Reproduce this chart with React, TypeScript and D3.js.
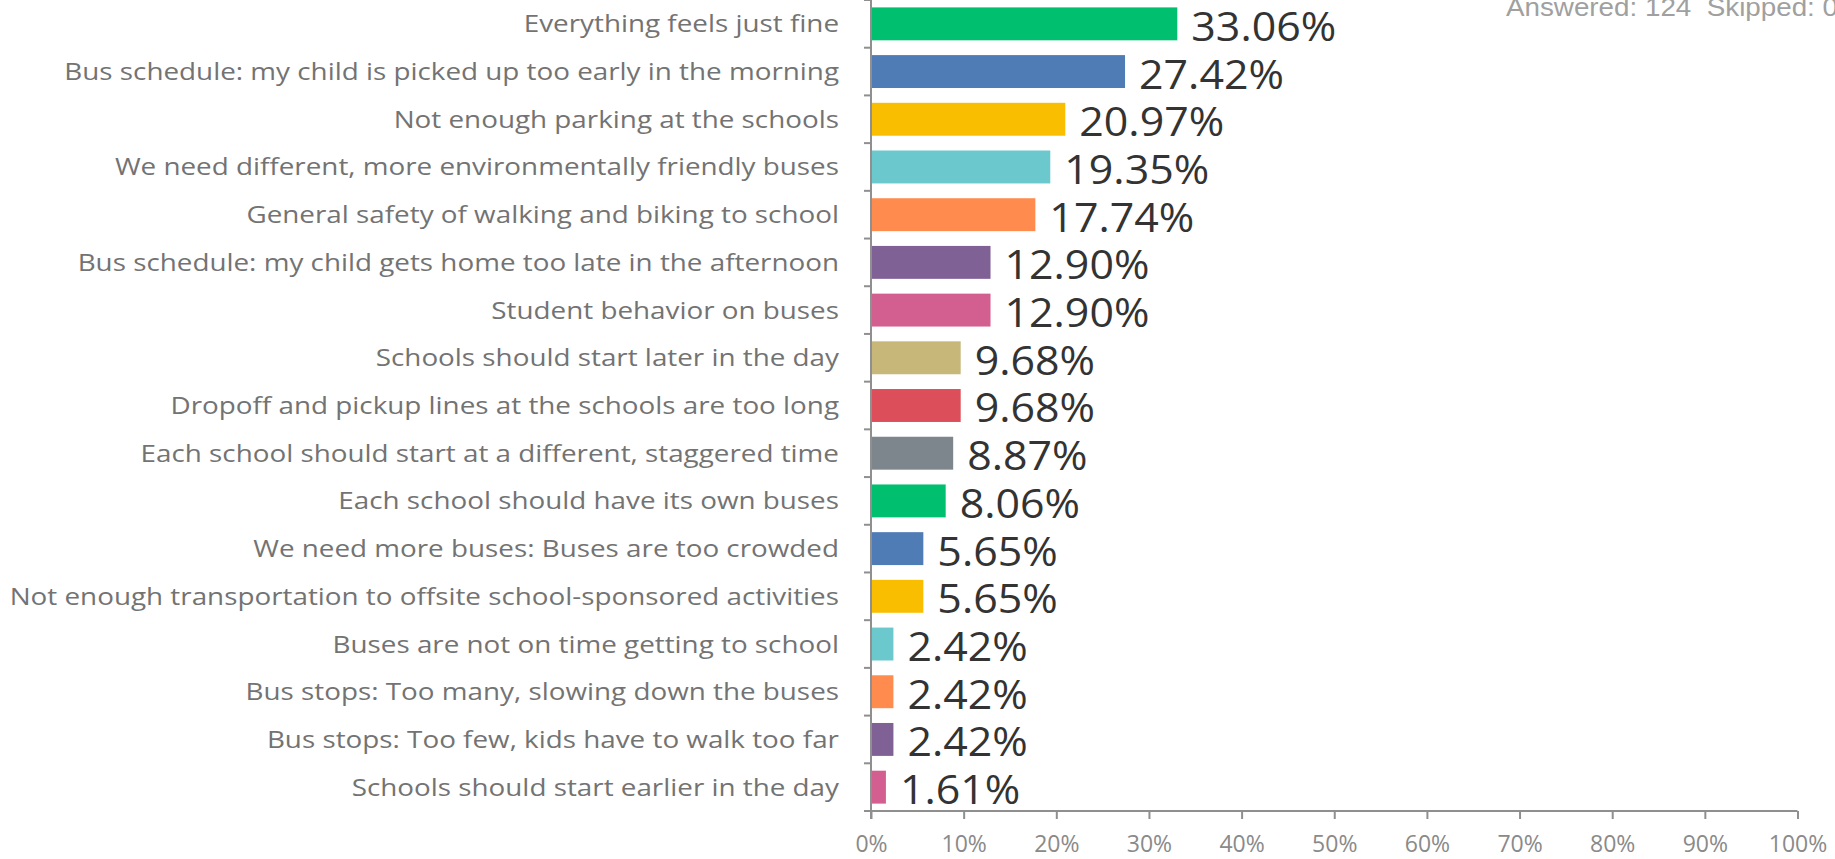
import React, { useEffect, useRef } from "react";
import * as d3 from "d3";

// Answer choices, top to bottom, as listed in the survey summary.
const categories: string[] = [
    "Everything feels just fine",
    "Bus schedule: my child is picked up too early in the morning",
    "Not enough parking at the schools",
    "We need different, more environmentally friendly buses",
    "General safety of walking and biking to school",
    "Bus schedule: my child gets home too late in the afternoon",
    "Student behavior on buses",
    "Schools should start later in the day",
    "Dropoff and pickup lines at the schools are too long",
    "Each school should start at a different, staggered time",
    "Each school should have its own buses",
    "We need more buses: Buses are too crowded",
    "Not enough transportation to offsite school-sponsored activities",
    "Buses are not on time getting to school",
    "Bus stops: Too many, slowing down the buses",
    "Bus stops: Too few, kids have to walk too far",
    "Schools should start earlier in the day",
];

// Share of respondents, in percent.
const percents: number[] = [
    33.06, 27.42, 20.97, 19.35, 17.74, 12.90, 12.90, 9.68, 9.68, 8.87, 8.06, 5.65, 5.65, 2.42, 2.42, 2.42, 1.61,
];

const tickValues: number[] = [0, 10, 20, 30, 40, 50, 60, 70, 80, 90, 100];

const palette: string[] = [
    "#00bf6f", "#507cb6", "#f9be00", "#6bc8cd", "#ff8b4f",
    "#7f6195", "#d25f90", "#c7b879", "#dc4e59", "#7d868c",
];

const summaryText = "Answered: 124  Skipped: 0";

const WIDTH = 1835;
const HEIGHT = 859;

export default function App(): React.ReactElement {
    const svgRef = useRef<SVGSVGElement>(null);

    useEffect(() => {
        if (!svgRef.current) {
            return;
        }

        const svg = d3.select(svgRef.current);
        svg.selectAll("*").remove();

        const left = 871;
        const right = 1797.5;
        const top = 0;
        const bottom = 811;

        const x = d3.scaleLinear().domain([0, 100]).range([left, right]);
        const y = d3.scaleBand<string>()
            .domain(categories)
            .range([top, bottom])
            .paddingInner(0.31)
            .paddingOuter(0.155);

        const axisColor = "#8f8f8f";

        // Summary line, cut off at the top edge like the source.
        svg.append("text")
            .attr("x", 1506)
            .attr("y", 16)
            .attr("font-family", "'Liberation Sans', Arial, sans-serif")
            .attr("font-size", 25)
            .attr("fill", "#a0a0a0")
            .attr("textLength", 332)
            .attr("lengthAdjust", "spacingAndGlyphs")
            .style("white-space", "pre")
            .text(summaryText);

        // Bars.
        svg.append("g")
            .selectAll("rect")
            .data(percents)
            .join("rect")
            .attr("x", x(0))
            .attr("y", (_d, i) => y(categories[i]) as number)
            .attr("width", (d) => x(d) - x(0))
            .attr("height", y.bandwidth())
            .attr("fill", (_d, i) => palette[i % palette.length]);

        // Value labels.
        svg.append("g")
            .selectAll("text")
            .data(percents)
            .join("text")
            .attr("transform", (d, i) =>
                `translate(${x(d) + 14},${(y(categories[i]) as number) + y.bandwidth() + 0.5}) scale(1.06,1)`)
            .attr("font-family", "'Open Sans', sans-serif")
            .attr("font-size", 40.5)
            .attr("fill", "#333333")
            .text((d) => `${d.toFixed(2)}%`);

        // Category axis.
        const step = y.step();
        const boundaries = d3.range(categories.length + 1).map((i) => top + i * step);
        svg.append("g")
            .selectAll("line")
            .data(boundaries)
            .join("line")
            .attr("x1", left - 7)
            .attr("x2", left)
            .attr("y1", (d) => d)
            .attr("y2", (d) => d)
            .attr("stroke", axisColor)
            .attr("stroke-width", 2);

        svg.append("line")
            .attr("x1", left)
            .attr("x2", left)
            .attr("y1", top)
            .attr("y2", bottom + 8)
            .attr("stroke", axisColor)
            .attr("stroke-width", 2);

        svg.append("g")
            .selectAll("text")
            .data(categories)
            .join("text")
            .attr("transform", (d) =>
                `translate(${left - 32},${(y(d) as number) + y.bandwidth() / 2 + 8.5}) scale(1.21,1)`)
            .attr("text-anchor", "end")
            .attr("font-family", "'Open Sans', sans-serif")
            .attr("font-size", 23)
            .attr("fill", "#737373")
            .text((d) => d);

        // Percent axis.
        const xAxis = svg.append("g")
            .attr("transform", `translate(0,${bottom})`)
            .call(d3.axisBottom(x).tickValues(tickValues).tickSize(8).tickPadding(17).tickFormat((d) => `${d}%`));

        xAxis.select(".domain")
            .attr("stroke", axisColor)
            .attr("stroke-width", 2)
            .attr("d", `M${left - 7},0H${right}`);
        xAxis.selectAll(".tick line")
            .attr("stroke", axisColor)
            .attr("stroke-width", 2);
        xAxis.selectAll(".tick text")
            .attr("font-family", "'Open Sans', sans-serif")
            .attr("font-size", 23)
            .attr("fill", "#8a8a8a");
    }, []);

    return (
        <svg
            ref={svgRef}
            width={WIDTH}
            height={HEIGHT}
            style={{ position: "absolute", left: 0, top: 0, background: "#ffffff" }}
        />
    );
}
